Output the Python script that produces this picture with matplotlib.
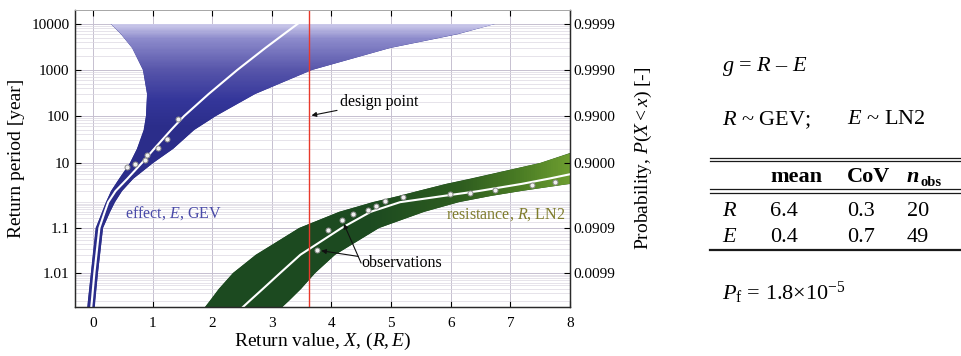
import numpy as np
import matplotlib
matplotlib.use("Agg")
import matplotlib.pyplot as plt
from matplotlib.colors import LinearSegmentedColormap
from matplotlib.lines import Line2D
from matplotlib.ticker import FixedLocator, NullLocator

plt.rcParams["font.family"] = ["Liberation Serif", "DejaVu Serif"]
plt.rcParams["mathtext.fontset"] = "custom"
plt.rcParams["mathtext.rm"] = "Liberation Serif"
plt.rcParams["mathtext.it"] = "Liberation Serif:italic"
plt.rcParams["mathtext.bf"] = "Liberation Serif:bold"

# ---- data (x = return value, y = return period T in years) ----
T_TICKS = [1.01, 1.1, 10, 100, 1000, 10000]
T_TICK_LABELS = ["1.01", "1.1", "10", "100", "1000", "10000"]
P_TICK_LABELS = ["0.0099", "0.0909", "0.9000", "0.9900", "0.9990", "0.9999"]
X_TICKS = [0, 1, 2, 3, 4, 5, 6, 7, 8]

# effect E (GEV): confidence band and fitted line
E_LEVELS = [1.0003, 1.001, 1.01, 1.03, 1.1, 1.5, 2, 3, 5, 10, 20, 50, 100,
            300, 1000, 3000, 6000, 10000]
E_LOWER = [-0.10, -0.084, -0.034, -0.003, 0.045, 0.157, 0.22, 0.305, 0.44, 0.62,
           0.74, 0.85, 0.89, 0.91, 0.84, 0.66, 0.47, 0.30]
E_CENTER = [-0.035, -0.017, 0.025, 0.059, 0.109, 0.20, 0.257, 0.38, 0.58, 0.82,
            1.03, 1.31, 1.53, 1.94, 2.42, 2.89, 3.20, 3.43]
E_UPPER = [0.025, 0.042, 0.084, 0.12, 0.17, 0.29, 0.37, 0.49, 0.68, 1.01, 1.35,
           1.70, 2.06, 2.72, 3.67, 4.98, 6.12, 6.74]
E_OBS_X = [0.57, 0.70, 0.87, 0.91, 1.09, 1.24, 1.43]
E_OBS_T = [8.3, 9.5, 11.5, 14.7, 20.6, 32, 86]

# resistance R (LN2): confidence band and fitted line
R_LEVELS = [1.0003, 1.001, 1.003, 1.01, 1.03, 1.1, 1.5, 2, 2.5, 3, 4, 5, 10, 20]
R_LOWER = [1.82, 1.96, 2.11, 2.35, 2.73, 3.46, 4.13, 4.70, 5.13, 5.45, 5.92,
           6.33, 7.50, 8.22]
R_CENTER = [2.43, 2.63, 2.85, 3.14, 3.48, 4.17, 4.66, 5.15, 5.89, 6.47, 7.19,
            7.65, 8.9, 9.5]
R_UPPER = [3.09, 3.28, 3.49, 3.73, 4.06, 4.80, 5.55, 6.14, 6.68, 7.18, 7.99,
           8.6, 9.6, 10.5]
R_OBS_X = [3.76, 3.94, 4.18, 4.36, 4.61, 4.75, 4.90, 5.20, 5.99, 6.33, 6.74,
           7.37, 7.75]
R_OBS_T = [1.038, 1.093, 1.243, 1.417, 1.573, 1.77, 2.08, 2.39, 2.68, 2.78,
           3.12, 3.82, 4.33]

DESIGN_X = 3.62
DESIGN_T = 100

TABLE_VARS = ["R", "E"]
TABLE_MEAN = ["6.4", "0.4"]
TABLE_COV = ["0.3", "0.7"]
TABLE_NOBS = ["20", "49"]

# ---- probability-paper scale: Gumbel reduced variate, piecewise between ticks ----
_TICK_POS = [34.0, 79.0, 144.0, 191.0, 237.0, 283.0]   # layout of the printed paper
_AX_H = 297.0


def _gumbel(T):
    T = np.clip(np.asarray(T, float), 1.0 + 1e-12, None)
    return -np.log(-np.log(1.0 - 1.0 / T))


_KU = _gumbel(T_TICKS)


def _pw(v, xs, ys):
    v = np.asarray(v, float)
    out = np.interp(v, xs, ys)
    out = np.where(v < xs[0], ys[0] + (v - xs[0]) * (ys[1] - ys[0]) / (xs[1] - xs[0]), out)
    out = np.where(v > xs[-1], ys[-1] + (v - xs[-1]) * (ys[-1] - ys[-2]) / (xs[-1] - xs[-2]), out)
    return out


def fwd(T):
    return _pw(_gumbel(T), _KU, _TICK_POS)


def inv(pos):
    u = _pw(pos, _TICK_POS, _KU)
    p = np.exp(-np.exp(-u))
    return 1.0 / np.clip(1.0 - p, 1e-15, None)


minor_t = ([1 + k / 1000 for k in range(1, 10)] + [1 + k / 100 for k in range(2, 10)]
           + [1 + k / 10 for k in range(2, 10)] + list(range(2, 10))
           + [k * 10 for k in range(2, 10)] + [k * 100 for k in range(2, 10)]
           + [k * 1000 for k in range(2, 10)])

fig = plt.figure(figsize=(9.62, 3.56), dpi=100)
ax = fig.add_axes([75 / 962, 49 / 356, 495 / 962, 297 / 356])
ax.set_yscale("function", functions=(fwd, inv))
ylim = (float(inv(0.0)), float(inv(_AX_H)))
ax.set_ylim(*ylim)
ax.set_xlim(-0.3, 8.0)
ax.set_axisbelow(True)

ax.set_yticks(T_TICKS)
ax.set_yticklabels(T_TICK_LABELS)
ax.yaxis.set_minor_locator(FixedLocator(minor_t))
ax.set_xticks(X_TICKS)
ax.grid(which="major", color="#c6c0d0", lw=0.7)
ax.grid(which="minor", axis="y", color="#dcd8e2", lw=0.5)
ax.tick_params(axis="y", which="minor", length=0)
ax.tick_params(axis="y", which="major", direction="in", length=4, pad=4,
               labelsize=11)
ax.tick_params(axis="x", direction="in", length=4, top=True, pad=7,
               labelsize=11)

# effect band with vertical gradient
e_cmap = LinearSegmentedColormap.from_list(
    "e", [(0, "#2b2d8a"), (0.26, "#34369a"), (0.55, "#5755aa"),
          (0.85, "#8c8acb"), (1, "#cfcdec")])
band_e = ax.fill_betweenx(E_LEVELS, E_LOWER, E_UPPER, facecolor="#2b2d8a",
                          edgecolor="none", zorder=1)
pos_e = np.linspace(0, 284, 240)
mesh_e = ax.pcolormesh([-0.3, 8.0], inv(pos_e),
                       np.clip((pos_e[:-1] - 180) / 103, 0, 1)[:, None],
                       cmap=e_cmap, vmin=0, vmax=1, shading="flat",
                       antialiased=False, zorder=1.1)
mesh_e.set_clip_path(band_e.get_paths()[0], ax.transData)

# resistance band with horizontal gradient
r_cmap = LinearSegmentedColormap.from_list(
    "r", [(0, "#1c4a20"), (0.45, "#2d5c1f"), (0.75, "#4a7c24"), (1, "#6e9e30")])
band_r = ax.fill_betweenx(R_LEVELS, R_LOWER, R_UPPER, facecolor="#1c4a20",
                          edgecolor="none", zorder=1)
gx = np.linspace(-0.3, 8.0, 240)
mesh_r = ax.pcolormesh(gx, inv(np.array([-5.0, _AX_H + 5])),
                       np.clip((gx[:-1] - 4.6) / 3.4, 0, 1)[None, :],
                       cmap=r_cmap, vmin=0, vmax=1, shading="flat",
                       antialiased=False, zorder=1.1)
mesh_r.set_clip_path(band_r.get_paths()[0], ax.transData)

ax.plot(E_CENTER, E_LEVELS, color="white", lw=1.5, zorder=3)
ax.plot(R_CENTER, R_LEVELS, color="white", lw=1.5, zorder=3)
ax.axvline(DESIGN_X, color="#e8392b", lw=1.0, zorder=3.5)
obs_style = dict(ls="none", marker="o", ms=3.6, mfc="#f0f0f0", mec="#8c8c8c",
                 mew=0.7, zorder=4)
ax.plot(E_OBS_X, E_OBS_T, **obs_style)
ax.plot(R_OBS_X, R_OBS_T, **obs_style)

# annotations
arrow = dict(arrowstyle="-|>", color="#111111", lw=0.8, mutation_scale=7,
             shrinkA=0, shrinkB=2)
ax.annotate("design point", xy=(DESIGN_X, DESIGN_T), xytext=(0.535, 0.69),
            textcoords="axes fraction", fontsize=11.5, va="center",
            arrowprops=arrow, zorder=5)
for i in (0, 2):
    ax.annotate("observations" if i == 0 else "",
                xy=(R_OBS_X[i], R_OBS_T[i]), xytext=(0.578, 0.148),
                textcoords="axes fraction", fontsize=11.5, va="center",
                arrowprops=dict(arrow, shrinkB=3), zorder=5)
ax.text(0.101, 0.316, r"effect, $E$, GEV", transform=ax.transAxes,
        color="#4a4aa8", fontsize=11.5, va="center")
ax.text(0.99, 0.31, r"resistance, $R$, LN2", transform=ax.transAxes,
        color="#7f7c2c", fontsize=11.5, va="center", ha="right")

ax.set_xlabel(r"Return value, $X$, $(R, E)$", fontsize=14, labelpad=1)
ax.set_ylabel("Return period [year]", fontsize=14)
ax.yaxis.set_label_coords(-0.102, 0.5)

# right-hand probability axis
ax2 = ax.twinx()
ax2.set_yscale("function", functions=(fwd, inv))
ax2.set_ylim(*ylim)
ax2.set_yticks(T_TICKS)
ax2.set_yticklabels(P_TICK_LABELS)
ax2.yaxis.set_minor_locator(NullLocator())
ax2.tick_params(axis="y", direction="in", length=4, pad=2.5, labelsize=11)
ax2.set_ylabel(r"Probability, $P(X < x)$ [-]", fontsize=14)
ax2.yaxis.set_label_coords(1.128, 0.5)

for a in (ax, ax2):
    for side in ("left", "bottom", "right"):
        a.spines[side].set_color("#2a2a2a")
        a.spines[side].set_linewidth(0.9)
    a.spines["top"].set_color("#a8a8a8")
    a.spines["top"].set_linewidth(0.7)

# ---- right-hand summary ----
fs = 16
x0 = 0.7505
fig.text(x0, 0.812, r"$g$ = $R$ – $E$", fontsize=fs, va="center")
fig.text(x0, 0.663, r"$R$ ~ GEV;", fontsize=fs, va="center")
fig.text(0.880, 0.663, r"$E$ ~ LN2", fontsize=fs, va="center")

cols = [0.8004, 0.8805, 0.9428]
for y, lw in ((0.557, 0.9), (0.5478, 0.9), (0.4691, 0.9), (0.4579, 0.9), (0.2978, 1.6)):
    fig.add_artist(Line2D([0.738, 1.0], [y, y], transform=fig.transFigure,
                          color="#1a1a1a", lw=lw))
fig.text(cols[0], 0.5028, "mean", fontsize=fs, weight="bold", va="center")
fig.text(cols[1], 0.5028, "CoV", fontsize=fs, weight="bold", va="center")
fig.text(cols[2], 0.5028, "n", fontsize=fs, weight="bold", style="italic",
         va="center")
fig.text(cols[2] + 0.014, 0.488, "obs", fontsize=10.5, weight="bold", va="center")
for row, (v, m, c, n) in enumerate(zip(TABLE_VARS, TABLE_MEAN, TABLE_COV, TABLE_NOBS)):
    y = 0.4045 - row * 0.073
    fig.text(x0, y, v, fontsize=fs, style="italic", va="center")
    fig.text(cols[0], y, m, fontsize=fs, va="center")
    fig.text(cols[1], y, c, fontsize=fs, va="center")
    fig.text(cols[2], y, n, fontsize=fs, va="center")

fig.text(x0, 0.177, r"$P_\mathrm{f}$ = 1.8×10$^{-5}$", fontsize=fs, va="center")

fig.savefig("out.png", dpi=100)
